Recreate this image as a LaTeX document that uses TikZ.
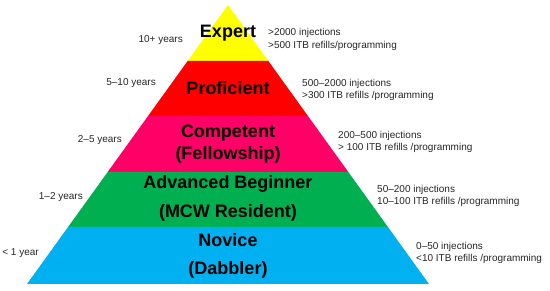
\documentclass[tikz,border=0pt]{standalone}
\usepackage{fontspec}
\setmainfont{Liberation Sans}
\definecolor{tyellow}{HTML}{FFFF00}
\definecolor{tred}{HTML}{FF0000}
\definecolor{tpink}{HTML}{FF0066}
\definecolor{tgreen}{HTML}{00B050}
\definecolor{tblue}{HTML}{00B0F0}
\definecolor{notegray}{HTML}{262626}
\begin{document}
\begin{tikzpicture}[x=1pt, y=-1pt,
        tier/.style={font=\fontsize{18}{20}\selectfont\bfseries, inner sep=0pt},
        yrs/.style={font=\fontsize{10}{12}\selectfont, text=notegray, anchor=east, inner sep=0pt},
        req/.style={font=\fontsize{10}{12.5}\selectfont, text=notegray, anchor=west,
            align=left, inner sep=0pt}]
    \useasboundingbox (0,0) rectangle (550,291);
    % pyramid layers, apex at (228,5)
    \foreach \ya/\yb/\col in {5/61/tyellow, 61/116/tred, 116/172/tpink,
            172/227/tgreen, 227/284/tblue} {
        \fill[\col] ({228-0.7204*(\ya-5)},\ya) -- ({228+0.7204*(\ya-5)},\ya)
            -- ({228+0.7204*(\yb-5)},\yb) -- ({228-0.7204*(\yb-5)},\yb) -- cycle;
    }
    % tier names
    \node[tier] (expert) at (228,33) {Expert};
    \node[tier] (prof) at (228,88) {Proficient};
    \node[tier] (comp) at (228,133) {Competent};
    \node[tier] (fellow) at (228,155) {(Fellowship)};
    \node[tier] (adv) at (228,184) {Advanced Beginner};
    \node[tier] (mcw) at (228,213) {(MCW Resident)};
    \node[tier] (novice) at (228,240) {Novice};
    \node[tier] (dabbler) at (228,270) {(Dabbler)};
    % years
    \node[yrs] (y5) at (183,40) {10+ years};
    \node[yrs] (y4) at (156,83) {5--10 years};
    \node[yrs] (y3) at (122,140) {2--5 years};
    \node[yrs] (y2) at (83,197) {1--2 years};
    \node[yrs] (y1) at (39,253) {< 1 year};
    % volumes
    \node[req] (r5) at (268,39.5) {>2000 injections\\>500 ITB refills/programming};
    \node[req] (r4) at (302,90) {500--2000 injections\\>300 ITB refills /programming};
    \node[req] (r3) at (338,142) {200--500 injections\\> 100 ITB refills /programming};
    \node[req] (r2) at (377,196) {50--200 injections\\10--100 ITB refills /programming};
    \node[req] (r1) at (416,253) {0--50 injections\\<10 ITB refills /programming};
\end{tikzpicture}
\end{document}
